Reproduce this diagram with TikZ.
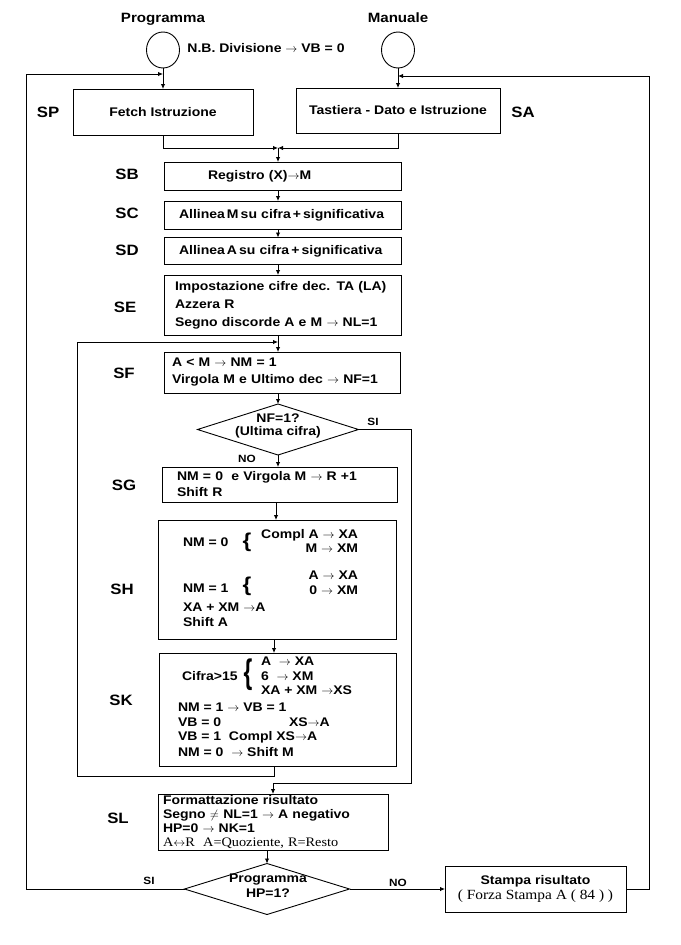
\documentclass[tikz,border=0pt]{standalone}
\usepackage{fontspec}
\setmainfont{Liberation Sans}[FakeStretch=1.12]
\newfontfamily\timesfont{Liberation Serif}[FakeStretch=1.1]
\usepackage{graphicx}
\usepackage{tikz}
\usetikzlibrary{arrows.meta,shapes.geometric,positioning}

\begin{document}
\begin{tikzpicture}[
  x=1pt, y=-1pt,
  line width=0.9pt,
  >={Latex[length=5pt,width=4.5pt]},
  every node/.style={
    font=\bfseries\fontsize{12.5}{15}\selectfont,
    inner sep=0pt,
    outer sep=0pt
  },
  box/.style={draw, align=left, inner ysep=0pt},
  dia/.style={draw, diamond, minimum width=161pt, minimum height=51pt},
  circ/.style={draw, ellipse, minimum width=33pt, minimum height=36pt},
  tag/.style={font=\bfseries\fontsize{15}{18}\selectfont},
  yesno/.style={font=\bfseries\fontsize{10.5}{12}\selectfont},
  note/.style={anchor=west},
  brace/.style={font=\bfseries\fontsize{20}{20}\selectfont}
]
\useasboundingbox (0,0) rectangle (680,945);

\node[circ] (prg) at (163,50) {};
\node[font=\bfseries\fontsize{13.5}{16}\selectfont] (tprg) at (163,19) {Programma};
\node[circ] (man) at (398,50) {};
\node[font=\bfseries\fontsize{13.5}{16}\selectfont] (tman) at (398,18) {Manuale};
\node (nb) at (266,48) {N.B. Divisione $\rightarrow$ VB = 0};

\node[box, align=center, minimum width=180pt, minimum height=46pt] (fetch) at (163,112) {Fetch Istruzione};
\node[box, align=center, minimum width=204pt, minimum height=45pt] (tast) at (398,110.5) {Tastiera - Dato e Istruzione};
\node[tag] (lsp) at (48,112) {SP};
\node[tag] (lsa) at (523,112) {SA};

\coordinate (merge) at (278,148);
\coordinate (colA) at (278,0);
\coordinate (colB) at (274,0);
\coordinate (colC) at (276,0);

\node[box, minimum height=28pt, inner xsep=44pt, text width=149pt] (sb) at (282.5,176) {Registro (X)$\rightarrow$M};
\node[box, minimum height=28pt, inner xsep=15pt, text width=207pt] (sc) at (282.5,215) {Allinea\,M\,su cifra\,+\,significativa};
\node[box, minimum height=27pt, inner xsep=15pt, text width=207pt] (sd) at (282.5,251) {Allinea\,A\,su cifra\,+\,significativa};
\node[box, minimum height=60pt, inner xsep=11pt, text width=215pt, font=\bfseries\fontsize{12.5}{18}\selectfont] (se) at (282.5,305)
{Impostazione cifre dec. TA (LA)\\Azzera R\\Segno discorde A e M $\rightarrow$ NL=1};
\node[box, minimum height=41pt, inner xsep=8pt, text width=220pt, font=\bfseries\fontsize{12.5}{17}\selectfont] (sf) at (282,372.5)
{A < M $\rightarrow$ NM = 1\\Virgola M e Ultimo dec $\rightarrow$ NF=1};

\node[dia] (nf) at (278,429.5) {};
\node[align=center, font=\bfseries\fontsize{12.5}{13}\selectfont] (nft) at (278,426) {NF=1?\\(Ultima cifra)};
\node[yesno] (lsi1) at (373,422) {SI};
\node[yesno] (lno1) at (247,459) {NO};

\node[box, minimum height=35pt, inner xsep=15pt, text width=205pt, font=\bfseries\fontsize{12.5}{16}\selectfont] (sg) at (279.5,484.5)
{NM = 0\ \ e Virgola M $\rightarrow$ R +1\\Shift R};

\node[box, minimum width=238pt, minimum height=119pt] (sh) at (277.5,579.5) {};
\node[note] (sh1) at (183,542) {NM = 0};
\node[brace] (sh2) at (247,542) {\{};
\node[anchor=east] (sh3) at (358,535) {Compl A $\rightarrow$ XA};
\node[anchor=east] (sh4) at (358,548) {M $\rightarrow$ XM};
\node[note] (sh5) at (183,588) {NM = 1};
\node[brace] (sh6) at (247,586) {\{};
\node[anchor=east] (sh7) at (358,575) {A $\rightarrow$ XA};
\node[anchor=east] (sh8) at (358,590) {0 $\rightarrow$ XM};
\node[note] (sh9) at (183,607) {XA + XM $\rightarrow$A};
\node[note] (sh10) at (183,622) {Shift A};

\node[box, minimum width=237pt, minimum height=113pt] (sk) at (277.5,709.5) {};
\node[note] (sk1) at (182,676) {Cifra>15};
\node[brace] (sk2) at (248,675) {\scalebox{1}[1.7]{\{}};
\node[note] (sk3) at (261,661) {A\ \ $\rightarrow$ XA};
\node[note] (sk4) at (261,676) {6\ \ $\rightarrow$ XM};
\node[note] (sk5) at (261,690) {XA + XM $\rightarrow$XS};
\node[note] (sk6) at (178,707) {NM = 1 $\rightarrow$ VB = 1};
\node[note] (sk7) at (178,722) {VB = 0};
\node[note] (sk8) at (289,722) {XS$\rightarrow$A};
\node[note] (sk9) at (178,737) {VB = 1\ \ Compl XS$\rightarrow$A};
\node[note] (sk10) at (178,752) {NM = 0\ \ $\rightarrow$ Shift M};

\node[tag] (lsb) at (127,174) {SB};
\node[tag] (lsc) at (127,213) {SC};
\node[tag] (lsd) at (127,250) {SD};
\node[tag] (lse) at (125,307) {SE};
\node[tag] (lsf) at (124,373) {SF};
\node[tag] (lsg) at (124,485) {SG};
\node[tag] (lsh) at (122,589) {SH};
\node[tag] (lsk) at (121,700) {SK};
\node[tag] (lsl) at (118,818) {SL};

\node[box, minimum height=56pt, inner xsep=5pt, inner ysep=1.5pt, text width=220pt, font=\bfseries\fontsize{12.5}{13.8}\selectfont] (sl) at (273,822)
{Formattazione risultato\\Segno $\neq$ NL=1 $\rightarrow$ A negativo\\HP=0 $\rightarrow$ NK=1\\
{\timesfont\mdseries\fontsize{13}{13}\selectfont A$\leftrightarrow$R\ \ A=Quoziente, R=Resto}};

\node[dia, minimum width=165pt] (hp) at (267,889) {};
\node[align=center, font=\bfseries\fontsize{12.5}{15}\selectfont] (hpt) at (268,886) {Programma\\HP=1?};
\node[yesno] (lsi2) at (149,881) {SI};
\node[yesno] (lno2) at (398,883) {NO};

\node[box, align=center, minimum width=181pt, minimum height=46pt, font=\bfseries\fontsize{12.5}{14.5}\selectfont] (stampa) at (535.5,889)
{Stampa risultato\\{\timesfont\mdseries\fontsize{14}{14}\selectfont ( Forza Stampa A ( 84 ) )}};

\coordinate (pin) at (163,74);
\coordinate (ltop) at (26,74);
\coordinate (min) at (398,76);
\coordinate (rtop) at (649,76);
\coordinate (loopin) at (278,342);
\coordinate (lbot) at (77,776);
\coordinate (rjoin) at (411,783);

\draw[->] (prg.south) -- (fetch.north);
\draw[->] (man.south) -- (tast.north);
\draw[->] (fetch.south) |- (merge);
\draw[->] (tast.south) |- (merge);
\draw[->] (merge) -- (merge |- sb.north);
\draw[->] (sb.south -| colA) -- (sc.north -| colA);
\draw[->] (sc.south -| colA) -- (sd.north -| colA);
\draw[->] (sd.south -| colA) -- (se.north -| colA);
\draw[->] (se.south -| colA) -- (sf.north -| colA);
\draw[->] (sf.south -| colA) -- (nf.north);
\draw[->] (nf.south) -- (nf.south |- sg.north);
\draw[->] (sg.south -| colC) -- (sh.north -| colC);
\draw[->] (sh.south -| colB) -- (sk.north -| colB);
\draw[->] (sk.south -| colB) |- (lbot) |- (loopin);
\draw[->] (nf.east) -| (rjoin) -| (sl.north);
\draw[->] (sl.south -| hp) -- (hp.north);
\draw[->] (hp.west) -| (ltop) -- (pin);
\draw[->] (hp.east) -- (stampa.west);
\draw[->] (stampa.east) -| (rtop) -- (min);

\end{tikzpicture}
\end{document}
